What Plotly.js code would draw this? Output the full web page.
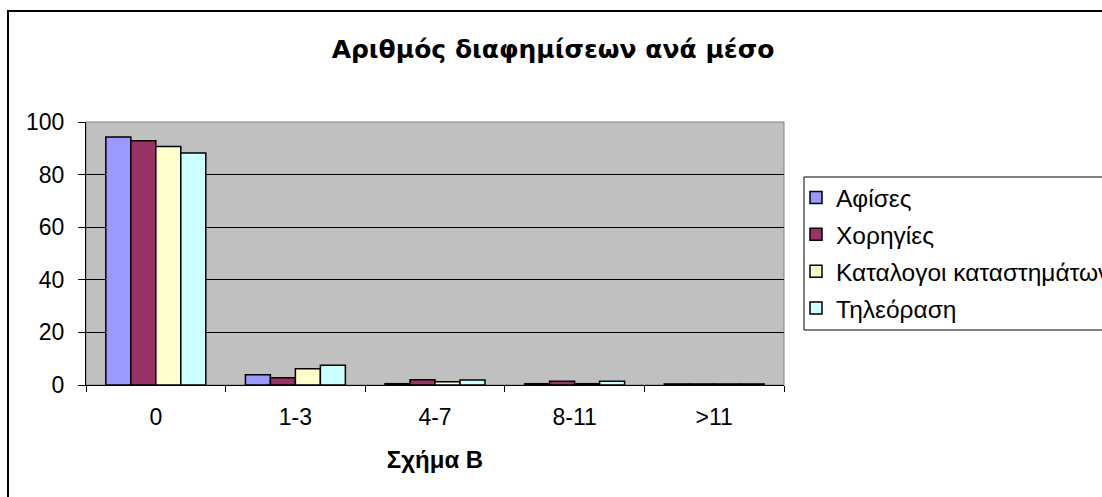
<!DOCTYPE html>
<html>
<head>
<meta charset="utf-8">
<script src="https://cdn.plot.ly/plotly-3.0.1.min.js"></script>
<style>
  html, body { margin: 0; padding: 0; background: #ffffff; overflow: hidden; }
  #chart { width: 1102px; height: 497px; }
</style>
</head>
<body>
<div id="chart"></div>
<script>
// Ad counts per medium, grouped by number-of-ads bucket
const categories = ['0', '1-3', '4-7', '8-11', '>11'];
const seriesNames = ['Αφίσες', 'Χορηγίες', 'Καταλογοι καταστημάτων', 'Τηλεόραση'];
const posters   = [94.3, 3.9, 0.5, 0.5, 0.4];
const sponsors  = [92.9, 2.8, 2.0, 1.4, 0.4];
const catalogs  = [90.7, 6.2, 1.2, 0.5, 0.4];
const television = [88.2, 7.5, 1.9, 1.4, 0.4];
const yTicks = [0, 20, 40, 60, 80, 100];

const seriesValues = [posters, sponsors, catalogs, television];
const seriesColors = ['#9999FF', '#993366', '#FFFFCC', '#CCFFFF'];

const font = 'Arial, "Liberation Sans", sans-serif';
const titleFont = '"DejaVu Sans", Verdana, sans-serif';

const traces = seriesValues.map((vals, i) => ({
  type: 'bar',
  name: seriesNames[i],
  x: categories,
  y: vals,
  legendgroup: 'g' + i,
  marker: { color: seriesColors[i], line: { color: '#000000', width: 1.5 } },
  hoverinfo: 'x+y+name'
}));

// Plot area in pixels: left 86, right 784, top 122, bottom 385
const W = 1102, H = 497;
const L = 86, R = 784, T = 122, B = 385;
const pw = R - L, ph = B - T;
const px = v => (v - L) / pw;
const py = v => (B - v) / ph;

const layout = {
  width: W,
  height: H,
  margin: { l: L, r: W - R, t: T, b: H - B, pad: 0, autoexpand: false },
  paper_bgcolor: '#ffffff',
  plot_bgcolor: '#C0C0C0',
  bargap: 0.284,
  bargroupgap: 0,
  showlegend: true,
  font: { family: font, size: 23, color: '#000000' },
  title: {
    text: '<b>Αριθμός διαφημίσεων ανά μέσο</b>',
    font: { family: titleFont, size: 25, color: '#000000' },
    xref: 'container', yref: 'container',
    x: 553 / W, y: 1 - 49 / H,
    xanchor: 'center', yanchor: 'middle'
  },
  xaxis: {
    type: 'category',
    categoryorder: 'array',
    categoryarray: categories,
    tickson: 'boundaries',
    ticks: 'outside',
    ticklen: 6,
    tickwidth: 1,
    tickcolor: '#000000',
    showline: true,
    linecolor: '#000000',
    linewidth: 1,
    showgrid: false,
    zeroline: false,
    tickfont: { family: font, size: 23, color: '#000000' },
    ticklabelstandoff: 11,
    title: {
      text: '<b>Σχήμα Β</b>',
      font: { family: font, size: 24, color: '#000000' },
      standoff: 22
    },
    fixedrange: true
  },
  yaxis: {
    range: [0, 100],
    tickvals: yTicks,
    ticktext: yTicks.map(String),
    ticks: 'outside',
    ticklen: 7,
    tickwidth: 1,
    tickcolor: '#000000',
    showline: true,
    linecolor: '#000000',
    linewidth: 1,
    showgrid: true,
    gridcolor: '#000000',
    gridwidth: 1,
    zeroline: false,
    tickfont: { family: font, size: 23, color: '#000000' },
    ticklabelstandoff: 9,
    fixedrange: true
  },
  legend: {
    x: px(796), y: py(175),
    xanchor: 'left', yanchor: 'top',
    bgcolor: 'rgba(255,255,255,0)',
    borderwidth: 0,
    traceorder: 'grouped',
    tracegroupgap: 2,
    itemclick: false,
    itemdoubleclick: false,
    font: { family: font, size: 24.5, color: '#000000' }
  },
  shapes: [
    // plot area frame (top and right edges in grey)
    { type: 'rect', xref: 'paper', yref: 'paper', x0: 0, x1: 1, y0: 0, y1: 1,
      line: { color: '#808080', width: 1 }, fillcolor: 'rgba(0,0,0,0)', layer: 'below' },
    // legend box
    { type: 'rect', xref: 'paper', yref: 'paper',
      x0: px(804), x1: px(1140), y0: py(330), y1: py(177),
      line: { color: '#000000', width: 1 }, fillcolor: '#ffffff', layer: 'below' },
    // chart outer border
    { type: 'rect', xref: 'paper', yref: 'paper',
      x0: px(8), x1: px(1140), y0: py(540), y1: py(11),
      line: { color: '#000000', width: 2 }, fillcolor: 'rgba(0,0,0,0)', layer: 'above' }
  ]
};

Plotly.newPlot('chart', traces, layout, { displayModeBar: false, staticPlot: true });
</script>
</body>
</html>
